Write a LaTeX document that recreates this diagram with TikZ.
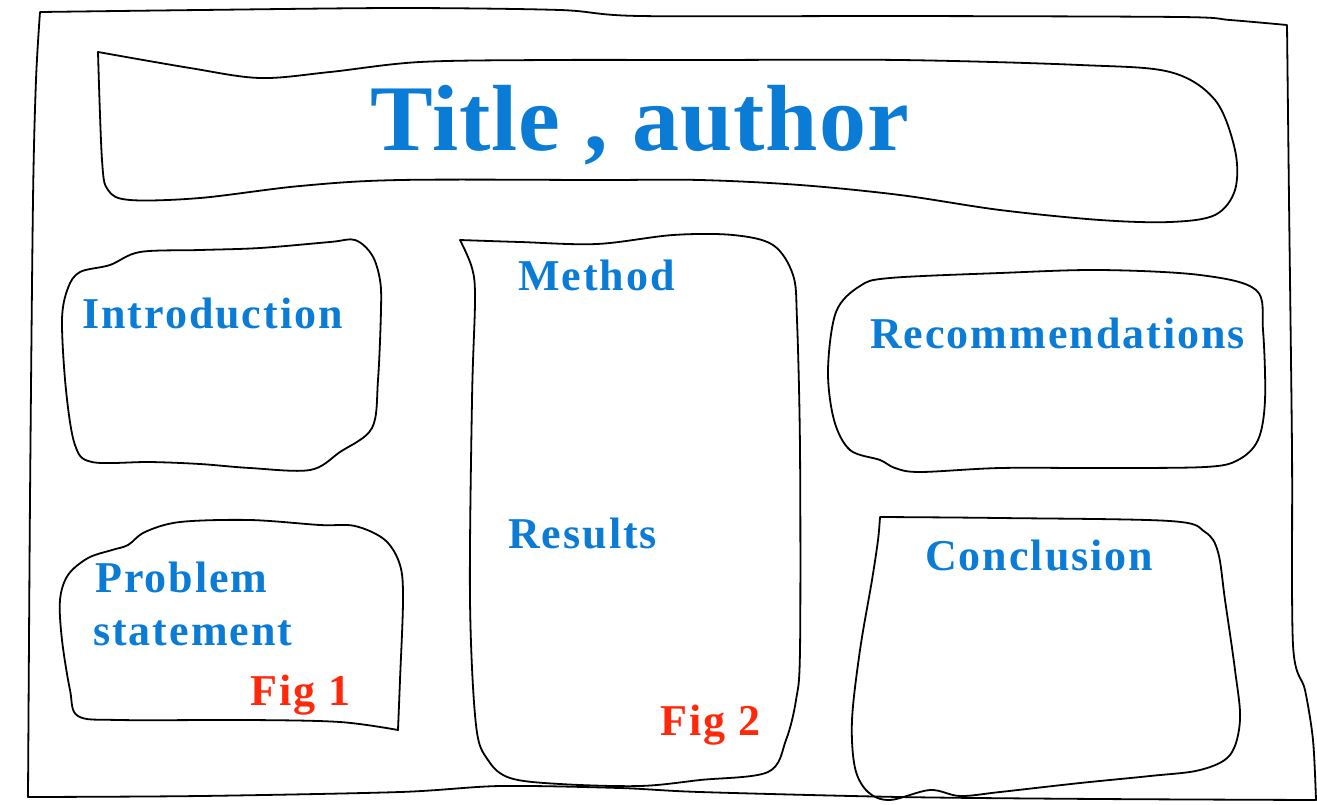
\documentclass[tikz,border=0pt]{standalone}
\usepackage{fontspec}
\setmainfont{Liberation Serif}
\newfontfamily\labfont[LetterSpace=4.5]{Liberation Serif}
\newfontfamily\ttlfont[LetterSpace=1]{Liberation Serif}
\definecolor{hblue}{RGB}{10,124,214}
\definecolor{hred}{RGB}{255,40,10}
\begin{document}
\begin{tikzpicture}[x=1pt,y=-1pt,
  sketch/.style={draw=black,line width=1.8pt,line join=round},
  lab/.style={anchor=base west,inner sep=0pt,text=hblue,font=\labfont\fontsize{44}{50}\selectfont\bfseries},
  figlab/.style={lab,text=hred},
  ttl/.style={anchor=base west,inner sep=0pt,text=hblue,font=\ttlfont\fontsize{94}{100}\selectfont\bfseries}]
\useasboundingbox[fill=white] (0,0) rectangle (1317,804);
% outer frame
\draw[sketch] plot[smooth,tension=0.5] coordinates {(40,12) (200,10) (400,8) (560,10) (640,16) (900,16) (1180,17) (1230,20) (1287,25)}
  -- plot[smooth,tension=0.5] coordinates {(1287,25) (1289,200) (1292,450) (1293,645) (1305,690) (1313,740) (1316,800)}
  -- plot[smooth,tension=0.5] coordinates {(1316,800) (1100,799) (900,797) (700,792) (620,788) (500,786) (400,792) (200,796) (28,797)}
  -- plot[smooth,tension=0.5] coordinates {(28,797) (30,500) (33,200) (36,80) (40,12)} -- cycle;
% title box
\draw[sketch] plot[smooth,tension=0.55] coordinates {(98,52) (190,68) (260,78) (330,72) (420,62) (550,60) (700,60) (900,60) (1080,65) (1170,72) (1215,100) (1235,150) (1235,190) (1215,215) (1170,222) (1100,220) (1000,210) (900,195) (800,185) (700,180) (600,180) (400,180) (300,186) (200,198) (130,200) (108,190) (102,160) (98,52)} -- cycle;
% introduction box
\draw[sketch] plot[smooth cycle,tension=0.55] coordinates {(80,272) (110,265) (140,252) (200,250) (260,248) (330,242) (355,240) (372,255) (380,280) (381,310) (378,380) (372,428) (340,452) (310,470) (250,468) (200,464) (150,462) (92,462) (75,445) (66,390) (62,320) (68,288)};
% problem statement box
\draw[sketch] plot[smooth,tension=0.55] coordinates {(398,730) (340,722) (250,720) (120,720) (78,716) (70,690) (62,640) (60,600) (68,575) (88,558) (112,550) (128,545) (145,532) (180,522) (250,520) (320,525) (355,526) (385,540) (400,565) (403,600) (400,680) (398,730)} -- cycle;
% method/results box
\draw[sketch] plot[smooth,tension=0.55] coordinates {(460,240) (520,242) (597,244) (673,235) (733,235) (773,245) (793,275) (797,320) (800,450) (800,650) (796,700) (786,740) (768,772) (700,780) (640,786) (560,784) (510,778) (488,760) (476,725) (470,600) (472,400) (475,300) (472,268) (460,240)} -- cycle;
% recommendations box
\draw[sketch] plot[smooth cycle,tension=0.55] coordinates {(890,278) (1000,273) (1100,270) (1200,275) (1256,290) (1263,330) (1265,400) (1258,440) (1238,460) (1205,467) (1100,468) (1000,468) (920,472) (895,468) (880,460) (850,450) (834,420) (828,370) (836,312) (860,286)};
% conclusion box
\draw[sketch] plot[smooth,tension=0.55] coordinates {(880,517) (1000,518) (1170,521) (1205,532) (1218,552) (1225,600) (1235,670) (1240,720) (1230,755) (1200,770) (1150,776) (1080,783) (1000,792) (960,796) (930,790) (890,800) (868,792) (855,768) (852,720) (860,650) (872,580) (878,540) (880,517)} -- cycle;
% texts
\node[ttl] (title) at (370,150) {Title , author};
\node[lab] (intro) at (82,328) {Introduction};
\node[lab] (method) at (518,290) {Method};
\node[lab] (rec) at (870,348) {Recommendations};
\node[lab] (res) at (508,548) {Results};
\node[lab] (concl) at (925,570) {Conclusion};
\node[lab] (prob) at (95,592) {Problem};
\node[lab] (stat) at (93,645) {statement};
\node[figlab] (fig1) at (250,705) {Fig 1};
\node[figlab] (fig2) at (660,735) {Fig 2};
\end{tikzpicture}
\end{document}
